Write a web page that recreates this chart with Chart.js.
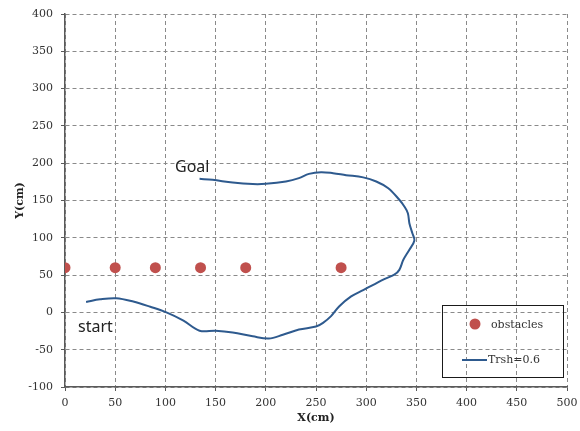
<!DOCTYPE html>
<html>
<head>
<meta charset="utf-8">
<script src="https://cdn.jsdelivr.net/npm/chart.js@4.4.1/dist/chart.umd.min.js"></script>
<style>
  html, body { margin: 0; padding: 0; background: #ffffff; }
  #wrap { width: 580px; height: 431px; position: relative; }
</style>
</head>
<body>
<div id="wrap"><canvas id="c" width="580" height="431"></canvas></div>
<script>
// Obstacle positions (cm)
const obstacleX = [0, 50, 90, 135, 180, 275];
const obstacleY = [60, 60, 60, 60, 60, 60];

// Robot path with threshold 0.6, from start to goal (cm)
const pathX = [21, 35, 51, 68, 85, 101, 118, 134, 150, 167, 187, 203, 217, 233, 250, 257, 265, 273, 285, 297, 307, 318, 328, 333, 337, 343, 348, 346, 343, 341.5, 338, 333, 322, 310, 297, 280, 267, 255, 243, 233, 220, 200, 187, 167, 147, 134];
const pathY = [14, 17.5, 19, 14.5, 7.5, 0, -11, -24.5, -24.5, -26.8, -32, -35, -30, -23, -19, -14, -5, 8, 21.4, 30, 37, 44.7, 50.5, 57, 70.5, 84, 96.4, 106, 119.6, 133, 142, 151, 166.5, 175.5, 181, 184, 186.6, 188, 185.7, 180, 175.5, 172.3, 172, 174, 177.7, 179];

// Axis ticks
const xTicks = [0, 50, 100, 150, 200, 250, 300, 350, 400, 450, 500];
const yTicks = [-100, -50, 0, 50, 100, 150, 200, 250, 300, 350, 400];

const seriesNames = ['obstacles', 'Trsh=0.6'];

const toPoints = (xs, ys) => xs.map((x, i) => ({ x: x, y: ys[i] }));

const tickFont = { family: 'DejaVu Serif', size: 11 };
const titleFont = { family: 'DejaVu Serif', size: 11, weight: 'bold' };
const gridColor = '#8a8a8a';
const axisColor = '#5a5a5a';

// Legend box inside the plot, plus the Goal / start notes
const overlayPlugin = {
  id: 'overlay',
  afterDatasetsDraw(chart) {
    const ctx = chart.ctx;
    const ds = chart.data.datasets;
    ctx.save();
    ctx.setLineDash([]);
    // legend frame
    ctx.strokeStyle = '#1a1a1a';
    ctx.lineWidth = 1;
    ctx.strokeRect(442.5, 305.5, 121, 72);
    // obstacles entry
    ctx.fillStyle = ds[0].backgroundColor;
    ctx.beginPath();
    ctx.arc(475, 324, 5.5, 0, Math.PI * 2);
    ctx.fill();
    ctx.font = '11px "DejaVu Serif"';
    ctx.fillStyle = '#333333';
    ctx.textBaseline = 'middle';
    ctx.textAlign = 'left';
    ctx.fillText(ds[0].label, 491, 325);
    // path entry
    ctx.strokeStyle = ds[1].borderColor;
    ctx.lineWidth = ds[1].borderWidth;
    ctx.beginPath();
    ctx.moveTo(462, 360);
    ctx.lineTo(487, 360);
    ctx.stroke();
    ctx.fillStyle = '#333333';
    ctx.fillText(ds[1].label, 488, 360);
    // notes
    ctx.font = '16px "Noto Sans"';
    ctx.fillStyle = '#222222';
    ctx.textBaseline = 'alphabetic';
    ctx.fillText('Goal', 175, 172);
    ctx.fillText('start', 78, 332);
    ctx.restore();
  }
};

new Chart(document.getElementById('c'), {
  type: 'scatter',
  data: {
    datasets: [
      {
        label: seriesNames[0],
        data: toPoints(obstacleX, obstacleY),
        backgroundColor: '#C0504D',
        borderWidth: 0,
        pointRadius: 5.5,
        pointHoverRadius: 5.5,
        showLine: false
      },
      {
        label: seriesNames[1],
        data: toPoints(pathX, pathY),
        borderColor: '#2E5A8E',
        borderWidth: 2,
        pointRadius: 0,
        showLine: true,
        tension: 0.35,
        fill: false
      }
    ]
  },
  options: {
    responsive: false,
    animation: false,
    events: [],
    layout: { padding: { top: 14, right: 13, left: 0, bottom: 0 } },
    plugins: {
      legend: { display: false },
      tooltip: { enabled: false }
    },
    scales: {
      x: {
        type: 'linear',
        min: 0,
        max: 500,
        afterFit(scale) { scale.height = 44; scale.paddingLeft = 0; scale.paddingRight = 0; },
        afterBuildTicks(scale) { scale.ticks = xTicks.map(v => ({ value: v })); },
        ticks: { font: tickFont, color: '#333333', padding: 6, maxRotation: 0 },
        grid: { color: gridColor, lineWidth: 1, borderDash: [4, 3], tickLength: 4, tickColor: axisColor, tickBorderDash: [] },
        border: { display: true, color: axisColor, width: 1.5, dash: [4, 3] },
        title: { display: true, text: 'X(cm)', font: titleFont, color: '#222222', padding: { top: 0, bottom: 6 } }
      },
      y: {
        type: 'linear',
        min: -100,
        max: 400,
        afterFit(scale) { scale.width = 65; scale.paddingTop = 0; scale.paddingBottom = 0; },
        afterBuildTicks(scale) { scale.ticks = yTicks.map(v => ({ value: v })); },
        ticks: { font: tickFont, color: '#333333', padding: 8 },
        grid: { color: gridColor, lineWidth: 1, borderDash: [4, 3], tickLength: 4, tickColor: axisColor, tickBorderDash: [] },
        border: { display: true, color: axisColor, width: 1.5, dash: [4, 3] },
        title: { display: true, text: 'Y(cm)', font: titleFont, color: '#222222', padding: { top: 14, bottom: 0 } }
      }
    }
  },
  plugins: [overlayPlugin]
});
</script>
</body>
</html>
